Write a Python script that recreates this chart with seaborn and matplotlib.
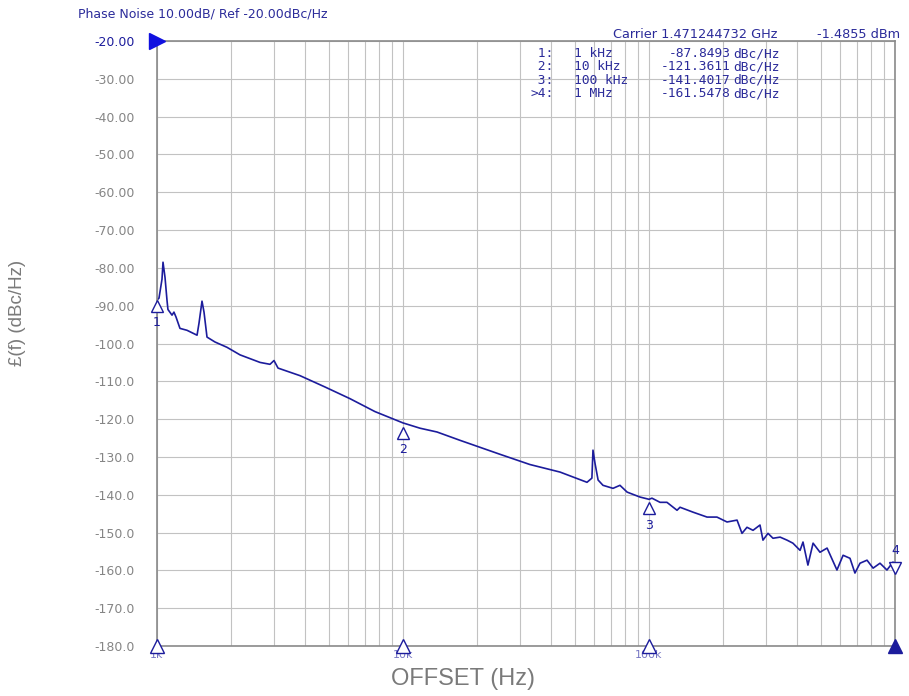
import numpy as np
import pandas as pd
import seaborn as sns
import matplotlib.pyplot as plt

# trace (offset in Hz, phase noise in dBc/Hz)
offset_hz = [1000, 1019, 1048, 1058, 1078, 1098, 1108, 1151, 1172, 1195,
             1240, 1324, 1455, 1482, 1524, 1553, 1597, 1721, 1925, 2175,
             2624, 2880, 2990, 3105, 3813, 4820, 6095, 7690, 10000, 11730,
             13750, 17050, 24800, 32800, 43500, 49100, 55970, 58600, 59200, 60300,
             62100, 65000, 71400, 76200, 81500, 91900, 100000, 102800, 110900, 118300,
             130000, 133700, 151000, 172200, 188900, 207600, 228000, 238800, 250200, 264800,
             282600, 290600, 304600, 319200, 341200, 364000, 384600, 411200, 422700, 442600,
             464500, 495500, 529600, 580800, 615200, 656200, 687300, 720800, 769600, 814700,
             869000, 927500, 981700, 1000000]
noise_dbc = [-88.5, -88.0, -83.0, -78.5, -82.5, -88.5, -91.0, -92.5, -91.7, -93.0,
             -96.0, -96.5, -97.8, -94.6, -88.8, -91.7, -98.3, -99.6, -101.0, -103.0,
             -105.0, -105.5, -104.5, -106.5, -108.5, -111.5, -114.6, -118.0, -121.0, -122.4,
             -123.4, -125.6, -129.3, -132.0, -134.0, -135.3, -136.7, -135.6, -128.2, -131.6,
             -136.1, -137.5, -138.3, -137.5, -139.3, -140.6, -141.2, -140.9, -142.0, -142.0,
             -144.1, -143.3, -144.6, -145.9, -145.9, -147.2, -146.7, -150.2, -148.6, -149.4,
             -148.0, -152.0, -150.2, -151.5, -151.2, -152.0, -152.8, -154.7, -152.5, -158.6,
             -152.8, -155.2, -154.1, -159.9, -156.0, -156.8, -160.7, -158.1, -157.3, -159.4,
             -158.1, -159.9, -157.8, -160.5]

marker_ids = ["1", "2", "3", "4"]
marker_freq = [1e3, 1e4, 1e5, 1e6]
marker_val = [-87.8493, -121.3611, -141.4017, -161.5478]
marker_rows = [(" 1:", "1 kHz", "-87.8493"),
               (" 2:", "10 kHz", "-121.3611"),
               (" 3:", "100 kHz", "-141.4017"),
               (">4:", "1 MHz", "-161.5478")]

y_ticks = list(range(-20, -190, -10))
y_labels = ["-20.00", "-30.00", "-40.00", "-50.00", "-60.00", "-70.00", "-80.00",
            "-90.00", "-100.0", "-110.0", "-120.0", "-130.0", "-140.0", "-150.0",
            "-160.0", "-170.0", "-180.0"]
x_labels = ["1k", "10k", "100k", ""]

df = pd.DataFrame({"offset": offset_hz, "noise": noise_dbc})

sns.set_style("white")
plt.rcParams["font.family"] = ["DejaVu Sans"]

blue = "#1c1c9c"
txt_blue = "#2b2b9a"
fig = plt.figure(figsize=(9.09, 6.96), dpi=100)
ax = fig.add_axes([0.1727, 0.0718, 0.8119, 0.8693])

sns.lineplot(data=df, x="offset", y="noise", ax=ax, color=blue, lw=1.2)
ax.set_xscale("log")
ax.set_xlim(1e3, 1e6)
ax.set_ylim(-180, -20)

ax.set_yticks(y_ticks)
ax.set_yticklabels(y_labels)
ax.tick_params(axis="y", length=0, pad=16, labelsize=9, labelcolor="#858585")
ax.get_yticklabels()[0].set_color(blue)
ax.set_xticks(marker_freq)
ax.set_xticklabels([])
ax.xaxis.set_minor_formatter(plt.NullFormatter())
ax.tick_params(axis="x", which="both", length=0)
ax.grid(True, which="major", axis="y", color="#c2c2c2", lw=0.8)
ax.grid(True, which="both", axis="x", color="#c2c2c2", lw=0.8)
for s in ax.spines.values():
    s.set_color("#8a8a8a")
    s.set_linewidth(1.2)

ax.set_xlabel("OFFSET (Hz)", fontsize=17, color="#7a7a7a", family="Liberation Sans")
ax.set_ylabel("£(f) (dBc/Hz)", fontsize=13.5, color="#7a7a7a", family="Liberation Sans")
ax.xaxis.set_label_coords(0.415, -0.037)
ax.yaxis.set_label_coords(-0.177, 0.55)

# reference level arrow
ax.plot([1e3], [-20], marker=">", ms=11, color="#1010e0", clip_on=False, zorder=5)

# markers on the trace
for m, f, v in zip(marker_ids, marker_freq, marker_val):
    if m == "4":
        ax.plot(f, v + 2.2, marker="v", ms=8, mfc="white", mec=blue, clip_on=False, zorder=6)
        ax.text(f, v + 5.0, m, color=blue, ha="center", va="bottom", fontsize=9)
    else:
        ax.plot(f, v - 2.2, marker="^", ms=8, mfc="white", mec=blue, clip_on=False, zorder=6)
        ax.text(f, v - 5.0, m, color=blue, ha="center", va="top", fontsize=9)

# stimulus markers along the bottom
for f, lab in zip(marker_freq, x_labels):
    filled = lab == ""
    ax.plot(f, -180, marker="^", ms=10, mfc=blue if filled else "white",
            mec=blue, clip_on=False, zorder=6)
    ax.text(f, -181, lab, color=blue, ha="center", va="top", fontsize=8, alpha=0.6)

# marker table and carrier info
fig.text(0.086, 0.98, "Phase Noise 10.00dB/ Ref -20.00dBc/Hz", color=txt_blue,
         fontsize=9, va="center")
fig.text(0.674, 0.95, "Carrier 1.471244732 GHz", color=txt_blue, fontsize=9.3, va="center")
fig.text(0.99, 0.95, "-1.4855 dBm", color=txt_blue, fontsize=9.3, va="center", ha="right")
for r, (idx, freq, val) in enumerate(marker_rows):
    yy = 0.918 - r * 0.0192
    kw = dict(color=txt_blue, fontsize=9.3, family="DejaVu Sans Mono", va="baseline")
    fig.text(0.609, yy, idx, ha="right", **kw)
    fig.text(0.632, yy, freq, ha="left", **kw)
    fig.text(0.804, yy, val, ha="right", **kw)
    fig.text(0.807, yy, "dBc/Hz", ha="left", **kw)

fig.savefig("out.png", dpi=100)
